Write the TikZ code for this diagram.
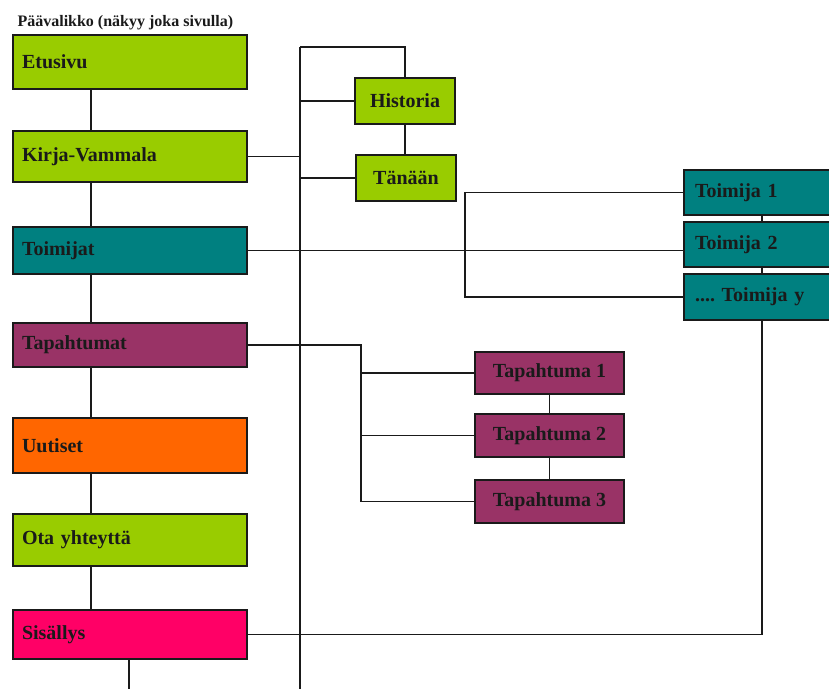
\documentclass[tikz,border=0pt]{standalone}
\usepackage{fontspec}
\setmainfont{Liberation Serif}
\usetikzlibrary{calc}
\definecolor{lime}{HTML}{99CC00}
\definecolor{tealbox}{HTML}{008080}
\definecolor{plum}{HTML}{993366}
\definecolor{orangebox}{HTML}{FF6600}
\definecolor{pinkbox}{HTML}{FF0066}
\definecolor{ink}{HTML}{1A1A1A}
\tikzset{
	menubox/.style={draw=ink, line width=1.2pt, rectangle, inner xsep=9pt, inner ysep=0pt,
		text width=216pt, align=left, minimum height=#1, text=ink,
		font=\bfseries\fontsize{20}{24}\selectfont},
	subbox/.style={draw=ink, line width=1.2pt, rectangle, inner sep=0pt,
		minimum width=100pt, minimum height=46pt, text=ink,
		font=\bfseries\fontsize{20}{24}\selectfont},
	wire/.style={draw=ink, line width=1.1pt}
}

\begin{document}
\frenchspacing
\begin{tikzpicture}[x=1pt, y=-1pt]
			%%%%% START %%%%%
			\useasboundingbox (0, 0) rectangle (829, 688);
			
			\node[anchor=base west, text=ink, font=\bfseries\fontsize{16}{18}\selectfont] (title) at (14, 26) {Päävalikko (näkyy joka sivulla)};
			
			% paavalikko
			\node[menubox=54pt, fill=lime] (etusivu) at (130, 62) {Etusivu};
			\node[menubox=51pt, fill=lime] (kirja) at (130, 156.5) {Kirja-Vammala};
			\node[menubox=47pt, fill=tealbox] (toimijat) at (130, 250.5) {Toimijat};
			\node[menubox=44pt, fill=plum] (tapahtumat) at (130, 345) {Tapahtumat};
			\node[menubox=55pt, fill=orangebox] (uutiset) at (130, 445.5) {Uutiset};
			\node[menubox=52pt, fill=lime] (yhteys) at (130, 540) {Ota yhteyttä};
			\node[menubox=49pt, fill=pinkbox] (sisallys) at (130, 634.5) {Sisällys};
			
			% kirja-vammala
			\node[subbox, fill=lime] (historia) at (405, 101) {Historia};
			\node[subbox, fill=lime] (tanaan) at (406, 178) {Tänään};
			
			% toimijat
			\node[menubox=45pt, fill=tealbox, text width=128pt, inner xsep=11pt] (toimija1) at (759, 192.5) {Toimija 1};
			\node[menubox=45pt, fill=tealbox, text width=128pt, inner xsep=11pt] (toimija2) at (759, 244.5) {Toimija 2};
			\node[menubox=46pt, fill=tealbox, text width=128pt, inner xsep=11pt] (toimijay) at (759, 297) {.... Toimija y};
			
			% tapahtumat
			\node[subbox, fill=plum, minimum width=149pt, minimum height=42pt] (tapahtuma1) at (549.5, 373) {Tapahtuma 1};
			\node[subbox, fill=plum, minimum width=149pt, minimum height=43pt] (tapahtuma2) at (549.5, 435.5) {Tapahtuma 2};
			\node[subbox, fill=plum, minimum width=149pt, minimum height=43pt] (tapahtuma3) at (549.5, 501.5) {Tapahtuma 3};
			
			\coordinate (spine) at (91, 0);
			\coordinate (trunk) at (300, 47);
			\coordinate (trunkend) at (300, 690);
			\coordinate (tapbus) at (361, 0);
			\coordinate (toimbus) at (465, 0);
			\coordinate (toimcol) at (762, 0);
			\coordinate (exit) at (129, 690);
			
			\foreach \a/\b in {etusivu/kirja, kirja/toimijat, toimijat/tapahtumat, tapahtumat/uutiset, uutiset/yhteys, yhteys/sisallys}
				\draw[wire] (\a.south -| spine) -- (\b.north -| spine);
			\draw[wire] (sisallys.south -| exit) -- (exit);
			
			\draw[wire] (trunk) -- (trunkend);
			\draw[wire] (trunk) -- (trunk -| historia.north) -- (historia.north);
			\draw[wire] (trunk |- historia.west) -- (historia.west);
			\draw[wire] (trunk |- tanaan.west) -- (tanaan.west);
			\draw[wire] (historia.south) -- (historia.south |- tanaan.north);
			\draw[wire] (kirja.east) -- (kirja.east -| trunk);
			
			\draw[wire] (toimijat.east) -- (toimijat.east -| toimija2.west);
			\draw[wire] (toimija1.west) -- (toimbus |- toimija1.west) -- (toimbus |- toimijay.west) -- (toimijay.west);
			\draw[wire] (toimija1.south -| toimcol) -- (toimija2.north -| toimcol);
			\draw[wire] (toimija2.south -| toimcol) -- (toimijay.north -| toimcol);
			\draw[wire] (toimijay.south -| toimcol) -- (toimcol |- sisallys.east) -- (sisallys.east);
			
			\draw[wire] (tapahtumat.east) -- (tapbus |- tapahtumat.east) -- (tapbus |- tapahtuma3.west) -- (tapahtuma3.west);
			\draw[wire] (tapbus |- tapahtuma1.west) -- (tapahtuma1.west);
			\draw[wire] (tapbus |- tapahtuma2.west) -- (tapahtuma2.west);
			\draw[wire] (tapahtuma1.south) -- (tapahtuma2.north);
			\draw[wire] (tapahtuma2.south) -- (tapahtuma3.north);
			
			%%%%% END %%%%%
\end{tikzpicture}
\end{document}
